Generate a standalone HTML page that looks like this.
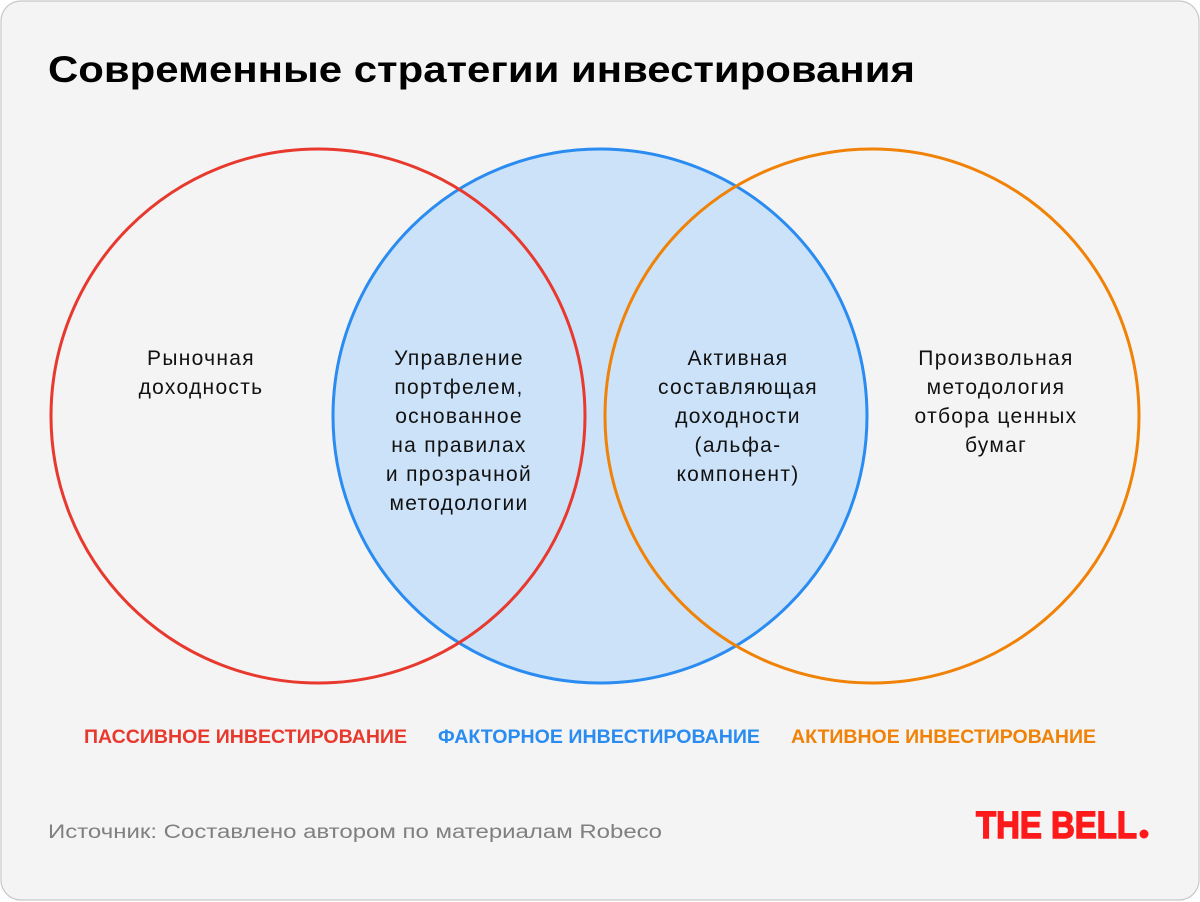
<!DOCTYPE html>
<html><head><meta charset="utf-8"><style>
html,body{margin:0;padding:0;background:#fff;}
svg{display:block;}
text{font-family:"Liberation Sans",sans-serif;}
</style></head><body>
<svg width="1200" height="902" viewBox="0 0 1200 902" xmlns="http://www.w3.org/2000/svg">
<rect x="1" y="1" width="1198" height="899" rx="20" fill="#f4f4f4" stroke="#c8c8c8" stroke-width="1.2"/>
<text x="48" y="82" font-size="37" font-weight="bold" fill="#000" textLength="867" lengthAdjust="spacingAndGlyphs">Современные стратегии инвестирования</text>
<circle cx="600" cy="416" r="267" fill="#cce2f8" stroke="#2a8cf0" stroke-width="3"/>
<circle cx="318" cy="416" r="267" fill="none" stroke="#e8392f" stroke-width="3"/>
<circle cx="872" cy="416" r="267" fill="none" stroke="#ef8207" stroke-width="3"/>
<g font-size="21" letter-spacing="1.3" fill="#111" text-anchor="middle">
<text x="201" y="365">Рыночная</text>
<text x="201" y="394">доходность</text>
<text x="459" y="365">Управление</text>
<text x="459" y="394">портфелем,</text>
<text x="459" y="423">основанное</text>
<text x="459" y="452">на правилах</text>
<text x="459" y="481">и прозрачной</text>
<text x="459" y="510">методологии</text>
<text x="738" y="365">Активная</text>
<text x="738" y="394">составляющая</text>
<text x="738" y="423">доходности</text>
<text x="738" y="452">(альфа-</text>
<text x="738" y="481">компонент)</text>
<text x="996" y="365">Произвольная</text>
<text x="996" y="394">методология</text>
<text x="996" y="423">отбора ценных</text>
<text x="996" y="452">бумаг</text>
</g>
<g font-size="19" font-weight="bold">
<text x="84" y="743" fill="#e8392f" textLength="323" lengthAdjust="spacingAndGlyphs">ПАССИВНОЕ ИНВЕСТИРОВАНИЕ</text>
<text x="438" y="743" fill="#2a8cf0" textLength="322" lengthAdjust="spacingAndGlyphs">ФАКТОРНОЕ ИНВЕСТИРОВАНИЕ</text>
<text x="791" y="743" fill="#ef8207" textLength="305" lengthAdjust="spacingAndGlyphs">АКТИВНОЕ ИНВЕСТИРОВАНИЕ</text>
</g>
<text x="48" y="838" font-size="19" fill="#808080" textLength="614" lengthAdjust="spacingAndGlyphs">Источник: Составлено автором по материалам Robeco</text>
<text x="976" y="838" font-size="38" font-weight="bold" fill="#fe1a1a" stroke="#fe1a1a" stroke-width="1.5" textLength="161" lengthAdjust="spacingAndGlyphs">THE BELL</text>
<circle cx="1144" cy="834" r="4.5" fill="#fe1a1a"/>
</svg>
</body></html>
